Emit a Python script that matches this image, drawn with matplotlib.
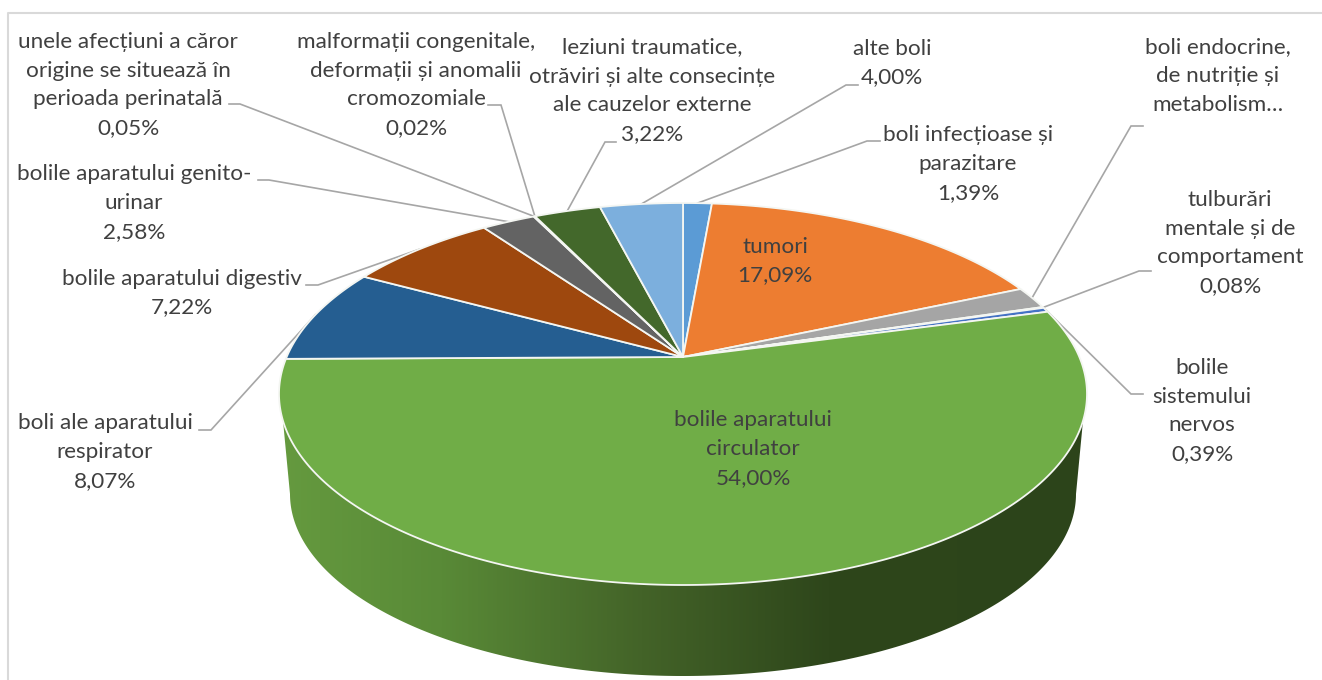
# utility code to draw the 3d pie of causes of death

import numpy as np
from matplotlib import pyplot as plt
from matplotlib.colors import LinearSegmentedColormap
from matplotlib.patches import Polygon

names = [
	"boli infecțioase și\nparazitare",
	"tumori",
	"boli endocrine,\nde nutriție și\nmetabolism…",
	"tulburări\nmentale și de\ncomportament",
	"bolile\nsistemului\nnervos",
	"bolile aparatului\ncirculator",
	"boli ale aparatului\nrespirator",
	"bolile aparatului digestiv",
	"bolile aparatului genito-\nurinar",
	"unele afecțiuni a căror\norigine se situează în\nperioada perinatală",
	"malformații congenitale,\ndeformații și anomalii\ncromozomiale",
	"leziuni traumatice,\notrăviri și alte consecințe\nale cauzelor externe",
	"alte boli",
]
values = [1.39, 17.09, 1.89, 0.08, 0.39, 54.00, 8.07, 7.22, 2.58, 0.05, 0.02, 3.22, 4.00]
colors = [
	"#5b9bd5", "#ed7d31", "#a5a5a5", "#ffc000", "#4472c4", "#70ad47", "#255e91",
	"#9e480e", "#636363", "#997300", "#264478", "#43682b", "#7cafdd",
]

# label centre (x, y) in pixels
label_pos = [
	(968, 164), (775, 261), (1218, 76), (1230, 243), (1202, 411), (753, 449), (105, 452),
	(182, 293), (134, 203), (128, 85), (416, 85), (652, 91), (892, 63),
]
# leader line: start at the text, elbow, then on to the rim of the slice
leader_pos = [
	((880, 141), (867, 141)), None, ((1143, 126), (1131, 126)), ((1151, 271), (1139, 271)),
	((1143, 394), (1131, 394)), None, ((199, 430), (211, 430)), ((306, 285), (318, 285)),
	((258, 180), (269, 180)), ((229, 104), (240, 104)), ((488, 105), (501, 105)),
	((616, 142), (605, 142)), ((858, 85), (846, 85)),
]

CX, CY = 683, 357
TOP, BOTTOM = 203, 585
RX = 404
DEPTH = 91


def project(angle, radius=1.0):
	"""

	:param angle: clockwise angle from the top of the pie, radians
	:param radius: fraction of the pie radius
	:return: tuple: (x, y) pixels, perspective view of the flat disc
	"""
	c = (TOP + BOTTOM - 2 * CY) / (BOTTOM - TOP)
	b = TOP * (1 + c) - CY
	d = RX * np.sqrt(1 - c ** 2)
	u = radius * np.sin(angle)
	v = radius * np.cos(angle)
	w = 1 + c * v
	return CX + d * u / w, (CY + b * v) / w


fig = plt.figure(figsize=(13.22, 6.8), dpi=100)
ax = fig.add_axes([0, 0, 1, 1])
ax.set_xlim(0, 1322)
ax.set_ylim(680, 0)
ax.axis("off")

# chart frame
ax.plot([7.5, 7.5, 1322], [680, 12.5, 12.5], color="#d9d9d9", lw=1.5, zorder=1)

# side wall: rim of the top face down to a slightly narrower bottom ellipse
rim_a = np.radians(np.linspace(251, 109, 300))
rim_x, rim_y = project(rim_a)
low_t = np.linspace(0, np.pi, 300)
low_x = CX + 393 * np.cos(low_t)
low_y = BOTTOM + DEPTH - 182 + 182 * np.sin(low_t)
wall = np.column_stack([np.r_[rim_x, low_x], np.r_[rim_y, low_y]])
wall_patch = Polygon(wall, closed=True, fc="none", ec="none")
ax.add_patch(wall_patch)
shade = LinearSegmentedColormap.from_list("wall", [
	(0.0, "#659a3f"), (0.2, "#598a37"), (0.45, "#436328"), (0.68, "#2e461b"), (1.0, "#2c441a"),
])
img = ax.imshow(np.linspace(0, 1, 512)[None, :], cmap=shade, extent=(279, 1087, 680, 350),
	aspect="auto", zorder=2)
img.set_clip_path(wall_patch)
ax.set_xlim(0, 1322)
ax.set_ylim(680, 0)

# top face, one polygon per slice
edges = np.r_[0, np.cumsum(values)] / np.sum(values) * 2 * np.pi
for i in range(len(values)):
	a = np.linspace(edges[i], edges[i + 1], max(4, int(values[i] * 8)))
	x, y = project(a)
	pts = np.column_stack([np.r_[CX, x], np.r_[CY, y]])
	ax.add_patch(Polygon(pts, closed=True, fc=colors[i], ec="#f4f6f2", lw=1.3, joinstyle="round", zorder=3))

# labels and leader lines
for i in range(len(values)):
	text = names[i]
	if not text.endswith("…"):
		text += "\n" + f"{values[i]:.2f}".replace(".", ",") + "%"
	ax.text(label_pos[i][0], label_pos[i][1], text, ha="center", va="center", multialignment="center",
		family=["Lato", "DejaVu Sans"], fontsize=16.2, color="#404040", linespacing=1.56, zorder=5)
	if leader_pos[i] is not None:
		mid = (edges[i] + edges[i + 1]) / 2
		end = project(mid)
		ax.plot([leader_pos[i][0][0], leader_pos[i][1][0], end[0]],
			[leader_pos[i][0][1], leader_pos[i][1][1], end[1]],
			color="#a6a6a6", lw=1.2, solid_joinstyle="miter", zorder=2.5)

fig.savefig("out.png", dpi=100, facecolor="white")
